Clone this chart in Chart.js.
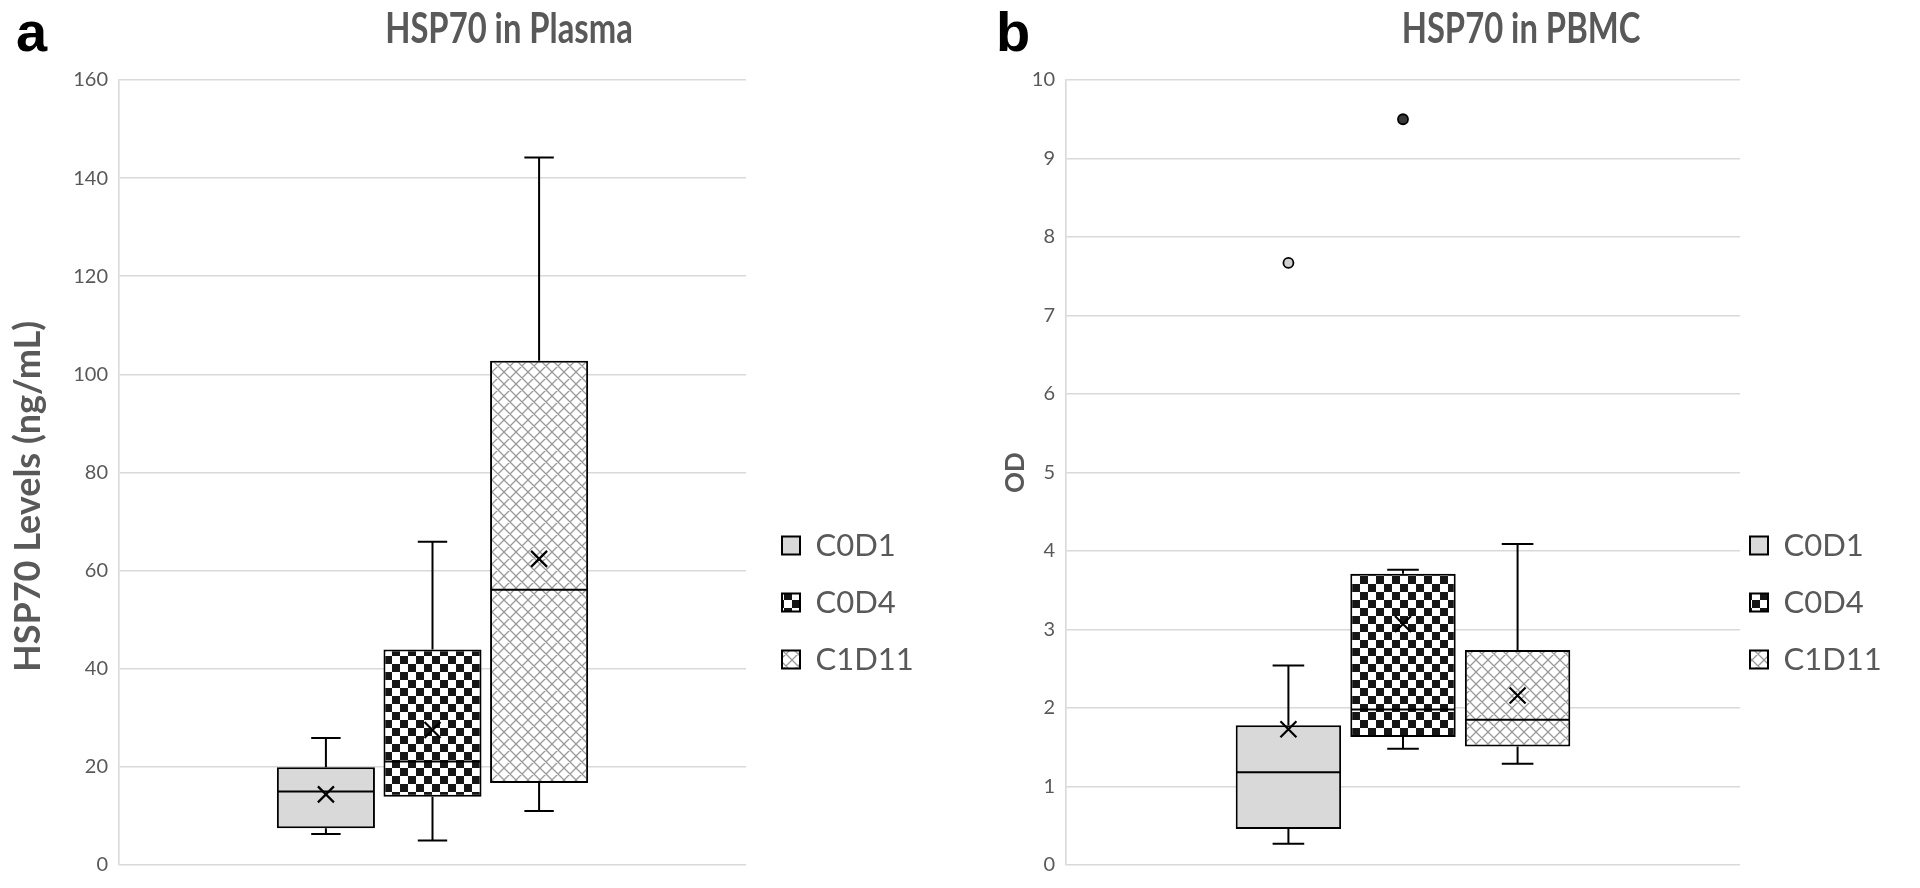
<!DOCTYPE html>
<html><head><meta charset="utf-8">
<script src="https://cdn.jsdelivr.net/npm/chart.js@4.4.0/dist/chart.umd.min.js"></script>
<style>
html,body{margin:0;padding:0;background:#fff;width:1920px;height:888px;overflow:hidden;}
.panel{position:absolute;top:0;width:960px;height:888px;}
.lbl{position:absolute;font-family:"Liberation Sans",Arial,sans-serif;font-weight:bold;font-size:56px;line-height:56px;color:#000;}
.ttl{position:absolute;font-family:Lato,sans-serif;font-weight:bold;font-size:42px;line-height:50px;color:#595959;transform:translateX(-50%) scaleX(0.78);white-space:nowrap;}
</style></head><body>
<div class="panel" style="left:0"><canvas id="c1" width="960" height="888"></canvas></div>
<div class="panel" style="left:960px"><canvas id="c2" width="960" height="888"></canvas></div>
<div class="lbl" style="left:16px;top:4px">a</div>
<div class="lbl" style="left:996px;top:4px">b</div>
<div class="ttl" style="left:509px;top:2px">HSP70 in Plasma</div>
<div class="ttl" style="left:1521px;top:2px">HSP70 in PBMC</div>
<script>
// ---- data ----
const seriesNames = ['C0D1', 'C0D4', 'C1D11'];

// Panel a: HSP70 in Plasma (ng/mL)
const plasmaMin    = [6.3, 5.0, 11.0];
const plasmaQ1     = [7.5, 13.9, 16.7];
const plasmaMedian = [15.0, 21.1, 56.1];
const plasmaQ3     = [19.9, 43.9, 102.8];
const plasmaMax    = [25.9, 65.9, 144.2];
const plasmaMean   = [14.4, 27.5, 62.4];
const plasmaOutliers = [[], [], []];
const plasmaAxis = {min: 0, max: 160, step: 20};

// Panel b: HSP70 in PBMC (OD)
const pbmcMin    = [0.27, 1.48, 1.29];
const pbmcQ1     = [0.46, 1.63, 1.51];
const pbmcMedian = [1.18, 1.98, 1.85];
const pbmcQ3     = [1.78, 3.71, 2.74];
const pbmcMax    = [2.54, 3.76, 4.09];
const pbmcMean   = [1.73, 3.07, 2.16];
const pbmcOutliers = [[7.67], [9.50], []];
const pbmcAxis = {min: 0, max: 10, step: 1};

// ---- fills ----
function checker() {
  const c = document.createElement('canvas'); const s = 8;
  c.width = c.height = 2 * s;
  const g = c.getContext('2d');
  g.fillStyle = '#ffffff'; g.fillRect(0, 0, 2 * s, 2 * s);
  g.fillStyle = '#161616'; g.fillRect(0, 0, s, s); g.fillRect(s, s, s, s);
  return g.createPattern(c, 'repeat');
}
function hatch() {
  const c = document.createElement('canvas'); const s = 12;
  c.width = c.height = s;
  const g = c.getContext('2d');
  g.fillStyle = '#ffffff'; g.fillRect(0, 0, s, s);
  g.strokeStyle = '#9a9a9a'; g.lineWidth = 1.3;
  g.beginPath();
  for (let k = -1; k <= 1; k++) {
    g.moveTo(k * s, 0); g.lineTo(k * s + s, s);
    g.moveTo(k * s + s, 0); g.lineTo(k * s, s);
  }
  g.stroke();
  return g.createPattern(c, 'repeat');
}
const fills = ['#d9d9d9', checker(), hatch()];
const outlierFills = ['#d0d0d0', '#3a3a3a', '#bbbbbb'];

const legendFont = {family: 'Lato', size: 31};
function textWidth(t, f) {
  const g = document.createElement('canvas').getContext('2d');
  g.font = f.size + 'px ' + f.family;
  return g.measureText(t).width;
}

function makeChart(id, st) {
  const boxW = 18, lp = 26;
  const itemW = Math.max(...seriesNames.map(n => boxW + legendFont.size / 2 + textWidth(n, legendFont)));
  const legendW = lp + itemW + 10;
  const padRight = 960 - st.plotRight - legendW;

  const boxPlugin = {
    id: 'boxWhisker' + id,
    afterLayout(chart) {
      const lg = chart.legend;
      if (lg) { lg.left += st.legendDX; lg.right += st.legendDX; lg.top += st.legendDY; lg.bottom += st.legendDY; }
    },
    afterDatasetsDraw(chart) {
      const ys = chart.scales.y, ctx = chart.ctx;
      const p = v => ys.getPixelForValue(v);
      ctx.save();
      chart.data.datasets.forEach((ds, i) => {
        const bar = chart.getDatasetMeta(i).data[0];
        const x = bar.x, half = bar.width / 2, cap = bar.width * 0.15;
        ctx.strokeStyle = '#000'; ctx.lineWidth = 2; ctx.lineCap = 'butt';
        ctx.beginPath();
        ctx.moveTo(x, p(st.q3[i])); ctx.lineTo(x, p(st.max[i]));
        ctx.moveTo(x - cap, p(st.max[i])); ctx.lineTo(x + cap, p(st.max[i]));
        ctx.moveTo(x, p(st.q1[i])); ctx.lineTo(x, p(st.min[i]));
        ctx.moveTo(x - cap, p(st.min[i])); ctx.lineTo(x + cap, p(st.min[i]));
        ctx.moveTo(x - half + 1, p(st.median[i])); ctx.lineTo(x + half - 1, p(st.median[i]));
        ctx.stroke();
        // mean marker (x)
        const my = p(st.mean[i]), m = 8;
        ctx.lineWidth = 2.2;
        ctx.beginPath();
        ctx.moveTo(x - m, my - m); ctx.lineTo(x + m, my + m);
        ctx.moveTo(x + m, my - m); ctx.lineTo(x - m, my + m);
        ctx.stroke();
        // outliers
        st.outliers[i].forEach(v => {
          ctx.beginPath(); ctx.arc(x, p(v), 5, 0, Math.PI * 2);
          ctx.fillStyle = outlierFills[i]; ctx.fill();
          ctx.lineWidth = 1.8; ctx.strokeStyle = '#000'; ctx.stroke();
        });
      });
      ctx.restore();
    },
    afterDraw(chart) {
      // y-axis title
      const ys = chart.scales.y, ctx = chart.ctx;
      ctx.save();
      ctx.fillStyle = '#595959';
      ctx.font = 'bold ' + st.yTitleSize + 'px Lato';
      ctx.textAlign = 'center'; ctx.textBaseline = 'middle';
      ctx.translate(st.yTitleX, (ys.top + ys.bottom) / 2 + st.yTitleDY);
      ctx.rotate(-Math.PI / 2);
      ctx.fillText(st.yTitle, 0, 0);
      ctx.restore();
    }
  };

  return new Chart(document.getElementById(id), {
    type: 'bar',
    data: {
      labels: [''],
      datasets: seriesNames.map((name, i) => ({
        label: name,
        data: [[st.q1[i], st.q3[i]]],
        backgroundColor: fills[i],
        borderColor: '#000',
        borderWidth: 2,
        borderSkipped: false,
        categoryPercentage: 0.51,
        barPercentage: 0.92
      }))
    },
    options: {
      responsive: false,
      animation: false,
      layout: {padding: {top: 80, bottom: 17, left: 0, right: padRight}},
      plugins: {
        tooltip: {enabled: false},
        title: {display: false},
        legend: {
          position: 'right',
          labels: {boxWidth: boxW, boxHeight: 18, padding: lp, color: '#595959', font: legendFont}
        }
      },
      scales: {
        x: {display: false},
        y: {
          min: st.axis.min, max: st.axis.max,
          ticks: {stepSize: st.axis.step, color: '#595959', font: {family: 'Lato', size: 20}, padding: st.tickPad},
          grid: {color: '#d9d9d9', lineWidth: 1.6, drawTicks: false},
          border: {display: true, color: '#d9d9d9', width: 1.6},
          afterFit(s) { s.width = st.plotLeft; }
        }
      }
    },
    plugins: [boxPlugin]
  });
}

makeChart('c1', {
  min: plasmaMin, q1: plasmaQ1, median: plasmaMedian, q3: plasmaQ3, max: plasmaMax,
  mean: plasmaMean, outliers: plasmaOutliers, axis: plasmaAxis,
  yTitle: 'HSP70 Levels (ng/mL)', yTitleSize: 36, yTitleX: 28, yTitleDY: 24,
  plotLeft: 119, plotRight: 746, tickPad: 11,
  legendDX: 10, legendDY: 127
});
makeChart('c2', {
  min: pbmcMin, q1: pbmcQ1, median: pbmcMedian, q3: pbmcQ3, max: pbmcMax,
  mean: pbmcMean, outliers: pbmcOutliers, axis: pbmcAxis,
  yTitle: 'OD', yTitleSize: 26, yTitleX: 56, yTitleDY: 0,
  plotLeft: 106, plotRight: 780, tickPad: 11,
  legendDX: -16, legendDY: 127
});
</script>
</body></html>
